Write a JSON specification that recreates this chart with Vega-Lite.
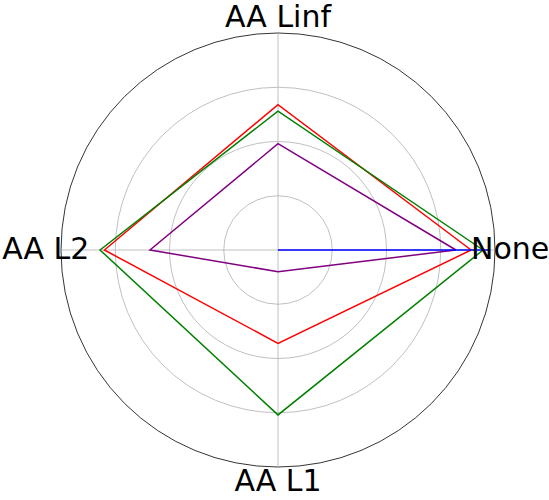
{
  "$schema": "https://vega.github.io/schema/vega-lite/v6.json",
  "width": 434,
  "height": 434,
  "autosize": {"type": "none"},
  "padding": {"left": 61, "top": 33, "right": 54, "bottom": 33},
  "background": "white",
  "config": {"view": {"stroke": null}},
  "datasets": {
    "series": [
      {"series": "S4", "axis": "None", "k": 0, "value": 0.82},
      {"series": "S4", "axis": "AA Linf", "k": 1, "value": 0.49},
      {"series": "S4", "axis": "AA L2", "k": 2, "value": 0.59},
      {"series": "S4", "axis": "AA L1", "k": 3, "value": 0.10},
      {"series": "S4", "axis": "None", "k": 4, "value": 0.82},
      {"series": "S2", "axis": "None", "k": 0, "value": 0.89},
      {"series": "S2", "axis": "AA Linf", "k": 1, "value": 0.67},
      {"series": "S2", "axis": "AA L2", "k": 2, "value": 0.80},
      {"series": "S2", "axis": "AA L1", "k": 3, "value": 0.43},
      {"series": "S2", "axis": "None", "k": 4, "value": 0.89},
      {"series": "S3", "axis": "None", "k": 0, "value": 0.945},
      {"series": "S3", "axis": "AA Linf", "k": 1, "value": 0.64},
      {"series": "S3", "axis": "AA L2", "k": 2, "value": 0.82},
      {"series": "S3", "axis": "AA L1", "k": 3, "value": 0.76},
      {"series": "S3", "axis": "None", "k": 4, "value": 0.945},
      {"series": "S1", "axis": "None", "k": 0, "value": 0.97},
      {"series": "S1", "axis": "AA Linf", "k": 1, "value": 0},
      {"series": "S1", "axis": "AA L2", "k": 2, "value": 0},
      {"series": "S1", "axis": "AA L1", "k": 3, "value": 0},
      {"series": "S1", "axis": "None", "k": 4, "value": 0.97}
    ],
    "axes": [
      {"axis": "None", "k": 0},
      {"axis": "AA Linf", "k": 1},
      {"axis": "AA L2", "k": 2},
      {"axis": "AA L1", "k": 3}
    ],
    "grid": [
      {"r": 0.25, "kind": "grid"},
      {"r": 0.5, "kind": "grid"},
      {"r": 0.75, "kind": "grid"},
      {"r": 1.0, "kind": "outer"}
    ]
  },
  "layer": [
    {
      "data": {"name": "grid"},
      "transform": [{"calculate": "0", "as": "ox"}],
      "mark": {"type": "point", "shape": "circle", "filled": false, "strokeWidth": 0.8, "opacity": 1},
      "encoding": {
        "x": {"field": "ox", "type": "quantitative", "scale": {"domain": [-1, 1]}, "axis": null},
        "y": {"field": "ox", "type": "quantitative", "scale": {"domain": [-1, 1]}, "axis": null},
        "size": {"field": "r", "type": "quantitative", "scale": {"type": "pow", "exponent": 2, "domain": [0, 1], "range": [0, 188356], "zero": true}, "legend": null},
        "stroke": {"field": "kind", "type": "nominal", "scale": {"domain": ["grid", "outer"], "range": ["#b0b0b0", "#000000"]}, "legend": null}
      }
    },
    {
      "data": {"name": "axes"},
      "transform": [
        {"calculate": "0", "as": "ox"},
        {"calculate": "cos(datum.k * PI / 2)", "as": "ax"},
        {"calculate": "sin(datum.k * PI / 2)", "as": "ay"}
      ],
      "mark": {"type": "rule", "stroke": "#b0b0b0", "strokeWidth": 0.8},
      "encoding": {
        "x": {"field": "ox", "type": "quantitative", "scale": {"domain": [-1, 1]}, "axis": null},
        "y": {"field": "ox", "type": "quantitative", "scale": {"domain": [-1, 1]}, "axis": null},
        "x2": {"field": "ax"},
        "y2": {"field": "ay"}
      }
    },
    {
      "data": {"name": "series"},
      "transform": [
        {"calculate": "datum.value * cos(datum.k * PI / 2)", "as": "px"},
        {"calculate": "datum.value * sin(datum.k * PI / 2)", "as": "py"}
      ],
      "mark": {"type": "line", "strokeWidth": 1.5, "interpolate": "linear"},
      "encoding": {
        "x": {"field": "px", "type": "quantitative", "scale": {"domain": [-1, 1]}, "axis": null},
        "y": {"field": "py", "type": "quantitative", "scale": {"domain": [-1, 1]}, "axis": null},
        "color": {"field": "series", "type": "nominal", "scale": {"domain": ["S1", "S2", "S3", "S4"], "range": ["#0000ff", "#ff0000", "#008000", "#800080"]}, "legend": null},
        "order": {"field": "k", "type": "quantitative"}
      }
    },
    {
      "data": {"name": "axes"},
      "transform": [
        {"calculate": "1.07 * cos(datum.k * PI / 2)", "as": "lx"},
        {"calculate": "1.07 * sin(datum.k * PI / 2)", "as": "ly"}
      ],
      "mark": {"type": "text", "font": "DejaVu Sans", "fontSize": 30, "align": "center", "baseline": "middle", "color": "#000000"},
      "encoding": {
        "x": {"field": "lx", "type": "quantitative", "scale": {"domain": [-1, 1]}, "axis": null},
        "y": {"field": "ly", "type": "quantitative", "scale": {"domain": [-1, 1]}, "axis": null},
        "text": {"field": "axis", "type": "nominal"}
      }
    }
  ]
}
